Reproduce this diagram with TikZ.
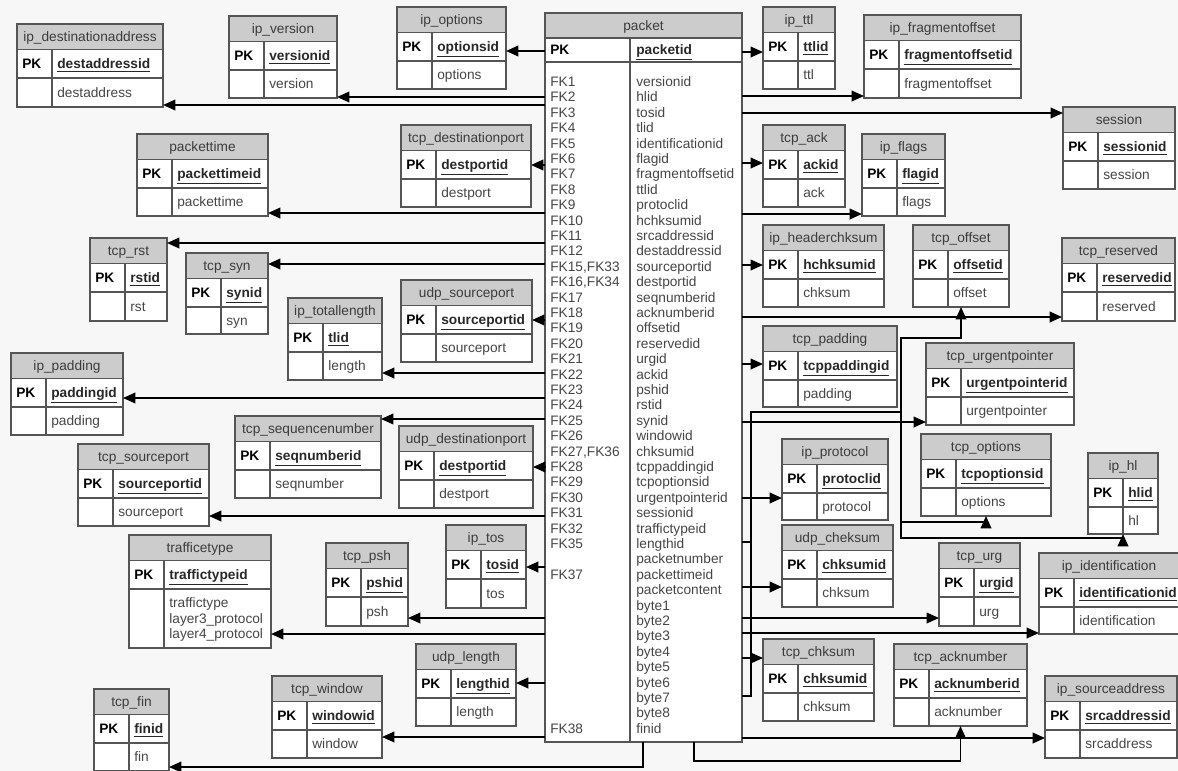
\documentclass[tikz,border=0pt]{standalone}
\usepackage{fontspec}
\setmainfont{Liberation Sans}
\usetikzlibrary{arrows.meta}

\definecolor{bggray}{RGB}{247,247,247}
\definecolor{hdrgray}{RGB}{204,204,204}
\definecolor{boxgray}{RGB}{85,85,85}
\definecolor{titlegray}{RGB}{60,60,60}
\definecolor{fldgray}{RGB}{70,70,70}
\definecolor{pkgray}{RGB}{40,40,40}

\newcommand\erfont{\fontsize{7.8}{8.73}\selectfont}

\tikzset{
  entbox/.style={draw=boxgray,line width=0.75pt,rectangle,inner sep=0pt,outer sep=0pt,anchor=north west},
  entline/.style={draw=boxgray,line width=0.75pt},
  ttl/.style={anchor=base,font=\erfont,text=titlegray,inner sep=0pt},
  pkl/.style={anchor=base west,font=\erfont\bfseries,text=black,inner sep=0pt},
  pkf/.style={anchor=base west,font=\erfont\bfseries,text=pkgray,inner sep=0pt},
  fld/.style={anchor=base west,font=\erfont,text=fldgray,inner sep=0pt},
  fk/.style={-{Triangle[length=7pt,width=6pt]},line width=1pt,black}
}

% table: [height]{name}{x}{y}{width}{title}{pk}{attribute}
\newcommand\entity[8][82]{%
  \fill[white] (#3,#4) rectangle ++(#5,#1);
  \fill[hdrgray] (#3,#4) rectangle ++(#5,25.5);
  \draw[entline] (#3,#4+25.5) -- ++(#5,0) (#3,#4+54) -- ++(#5,0) (#3+35,#4+25.5) -- (#3+35,#4+#1);
  \node[entbox,minimum width=#5*0.02cm,minimum height=#1*0.02cm] (#2) at (#3,#4) {};
  \node[ttl] at (#3+#5/2,#4+17.3) {#6};
  \node[pkl] at (#3+5,#4+44.3) {PK};
  \node[pkf] at (#3+40,#4+44.3) {\underline{#7}};
  \node[fld] at (#3+40,#4+31.5+#1/2) {#8};
}

\begin{document}
\begin{tikzpicture}[x=0.02cm,y=-0.02cm,line cap=butt,line join=miter]
\path[use as bounding box] (0,0) rectangle (1178,771);
\fill[bggray] (0,0) rectangle (1178,771);

% central table
\fill[white] (545,13) rectangle (742,742);
\fill[hdrgray] (545,13) rectangle (742,38);
\draw[entline] (545,38) -- (742,38) (545,62) -- (742,62) (630,38) -- (630,742);
\node[entbox,minimum width=197*0.02cm,minimum height=729*0.02cm] (packet) at (545,13) {};
\node[ttl] at (643.5,30) {packet};
\node[pkl] at (550,54.5) {PK};
\node[pkf] at (636,54.5) {\underline{packetid}};
\foreach \f [count=\i from 0] in {versionid,hlid,tosid,tlid,identificationid,flagid,
    fragmentoffsetid,ttlid,protoclid,hchksumid,srcaddressid,destaddressid,sourceportid,
    destportid,seqnumberid,acknumberid,offsetid,reservedid,urgid,ackid,pshid,rstid,synid,
    windowid,chksumid,tcppaddingid,tcpoptionsid,urgentpointerid,sessionid,traffictypeid,
    lengthid,packetnumber,packettimeid,packetcontent,byte1,byte2,byte3,byte4,byte5,byte6,
    byte7,byte8,finid}
  \node[fld] at (636,86.5+15.4*\i) {\f};
\foreach \i/\k in {0/FK1,1/FK2,2/FK3,3/FK4,4/FK5,5/FK6,6/FK7,7/FK8,8/FK9,9/FK10,10/FK11,
    11/FK12,12/{FK15,FK33},13/{FK16,FK34},14/FK17,15/FK18,16/FK19,17/FK20,18/FK21,19/FK22,
    20/FK23,21/FK24,22/FK25,23/FK26,24/{FK27,FK36},25/FK28,26/FK29,27/FK30,28/FK31,29/FK32,
    30/FK35,32/FK37,42/FK38}
  \node[fld] at (550,86.5+15.4*\i) {\k};

% tables left of packet
\entity[83]{ipdestinationaddress}{17}{24}{146}{ip\_destinationaddress}{destaddressid}{destaddress}
\entity{ipversion}{229}{16}{108}{ip\_version}{versionid}{version}
\entity{ipoptions}{397}{7}{109}{ip\_options}{optionsid}{options}
\entity{packettime}{137}{134}{131}{packettime}{packettimeid}{packettime}
\entity{tcpdestinationport}{401}{125}{130}{tcp\_destinationport}{destportid}{destport}
\entity[83]{tcprst}{90}{238}{77}{tcp\_rst}{rstid}{rst}
\entity[81]{tcpsyn}{186}{253}{82}{tcp\_syn}{synid}{syn}
\entity{iptotallength}{288}{298}{94}{ip\_totallength}{tlid}{length}
\entity{udpsourceport}{401}{280}{131}{udp\_sourceport}{sourceportid}{sourceport}
\entity{ippadding}{11}{353}{112}{ip\_padding}{paddingid}{padding}
\entity{tcpsequencenumber}{235}{416}{146}{tcp\_sequencenumber}{seqnumberid}{seqnumber}
\entity{udpdestinationport}{399}{426}{134}{udp\_destinationport}{destportid}{destport}
\entity{tcpsourceport}{78}{444}{131}{tcp\_sourceport}{sourceportid}{sourceport}
\entity[113]{traffictype}{129}{535}{142}{trafficetype}{traffictypeid}{}
\node[fld] at (169,607.5) {traffictype};
\node[fld] at (169,623) {layer3\_protocol};
\node[fld] at (169,638.5) {layer4\_protocol};
\entity[83]{tcppsh}{326}{543}{82}{tcp\_psh}{pshid}{psh}
\entity[83]{iptos}{446}{525}{80}{ip\_tos}{tosid}{tos}
\entity{udplength}{416}{644}{100}{udp\_length}{lengthid}{length}
\entity{tcpwindow}{272}{676}{110}{tcp\_window}{windowid}{window}
\entity{tcpfin}{94}{689}{75}{tcp\_fin}{finid}{fin}

% tables right of packet
\entity{ipttl}{763}{7}{72}{ip\_ttl}{ttlid}{ttl}
\entity[83]{ipfragmentoffset}{864}{15}{157}{ip\_fragmentoffset}{fragmentoffsetid}{fragmentoffset}
\entity{session}{1063}{107}{112}{session}{sessionid}{session}
\entity{ipflags}{862}{134}{83}{ip\_flags}{flagid}{flags}
\entity{tcpack}{763}{125}{82}{tcp\_ack}{ackid}{ack}
\entity{ipheaderchksum}{763}{225}{121}{ip\_headerchksum}{hchksumid}{chksum}
\entity{tcpoffset}{913}{225}{96}{tcp\_offset}{offsetid}{offset}
\entity[83]{tcpreserved}{1062}{238}{113}{tcp\_reserved}{reservedid}{reserved}
\entity[81]{tcppadding}{763}{326}{134}{tcp\_padding}{tcppaddingid}{padding}
\entity{tcpurgentpointer}{926}{343}{148}{tcp\_urgentpointer}{urgentpointerid}{urgentpointer}
\entity[81]{ipprotocol}{782}{439}{106}{ip\_protocol}{protoclid}{protocol}
\entity{tcpoptions}{921}{434}{130}{tcp\_options}{tcpoptionsid}{options}
\entity[81]{iphl}{1088}{453}{70}{ip\_hl}{hlid}{hl}
\entity{udpcheksum}{782}{525}{111}{udp\_cheksum}{chksumid}{chksum}
\entity[83]{tcpurg}{939}{543}{81}{tcp\_urg}{urgid}{urg}
\entity[81]{ipidentification}{1039}{553}{140}{ip\_identification}{identificationid}{identification}
\entity{tcpchksum}{763}{639}{111}{tcp\_chksum}{chksumid}{chksum}
\entity{tcpacknumber}{894}{644}{133}{tcp\_acknumber}{acknumberid}{acknumber}
\entity{ipsourceaddress}{1045}{676}{132}{ip\_sourceaddress}{srcaddressid}{srcaddress}

% foreign keys, left side
\draw[fk] (packet.west |- 0,51) -- (ipoptions.east |- 0,51);
\draw[fk] (packet.west |- 0,97) -- (ipversion.east |- 0,97);
\draw[fk] (packet.west |- 0,105) -- (ipdestinationaddress.east |- 0,105);
\draw[fk] (packet.west |- 0,165) -- (tcpdestinationport.east |- 0,165);
\draw[fk] (packet.west |- 0,213) -- (packettime.east |- 0,213);
\draw[fk] (packet.west |- 0,243) -- (tcprst.east |- 0,243);
\draw[fk] (packet.west |- 0,264) -- (tcpsyn.east |- 0,264);
\draw[fk] (packet.west |- 0,320) -- (udpsourceport.east |- 0,320);
\draw[fk] (packet.west |- 0,373) -- (iptotallength.east |- 0,373);
\draw[fk] (packet.west |- 0,398) -- (ippadding.east |- 0,398);
\draw[fk] (packet.west |- 0,419) -- (tcpsequencenumber.east |- 0,419);
\draw[fk] (packet.west |- 0,467) -- (udpdestinationport.east |- 0,467);
\draw[fk] (packet.west |- 0,516) -- (tcpsourceport.east |- 0,516);
\draw[fk] (packet.west |- 0,567) -- (iptos.east |- 0,567);
\draw[fk] (packet.west |- 0,618) -- (tcppsh.east |- 0,618);
\draw[fk] (packet.west |- 0,634) -- (traffictype.east |- 0,634);
\draw[fk] (packet.west |- 0,683) -- (udplength.east |- 0,683);
\draw[fk] (packet.west |- 0,737) -- (tcpwindow.east |- 0,737);
\draw[fk] (packet.south -| 643,0) |- (tcpfin.east |- 0,767);

% foreign keys, right side
\draw[fk] (packet.east |- 0,52) -- (ipttl.west |- 0,52);
\draw[fk] (packet.east |- 0,96) -- (ipfragmentoffset.west |- 0,96);
\draw[fk] (packet.east |- 0,113) -- (session.west |- 0,113);
\draw[fk] (packet.east |- 0,163) -- (tcpack.west |- 0,163);
\draw[fk] (packet.east |- 0,214) -- (ipflags.west |- 0,214);
\draw[fk] (packet.east |- 0,265) -- (ipheaderchksum.west |- 0,265);
\draw[fk] (packet.east |- 0,317) -- (tcpreserved.west |- 0,317);
\draw[fk] (packet.east |- 0,364) -- (tcppadding.west |- 0,364);
\draw[fk] (packet.east |- 0,422) -- (tcpurgentpointer.west |- 0,422);
\draw[fk] (packet.east |- 0,498) -- (ipprotocol.west |- 0,498);
\draw[fk] (packet.east |- 0,587) -- (udpcheksum.west |- 0,587);
\draw[fk] (packet.east |- 0,618) -- (tcpurg.west |- 0,618);
\draw[fk] (packet.east |- 0,633) -- (ipidentification.west |- 0,633);
\draw[fk] (packet.east |- 0,658) -- (tcpchksum.west |- 0,658);
\draw[fk] (packet.east |- 0,738) -- (ipsourceaddress.west |- 0,738);
\draw[fk] (packet.south -| 694,0) |- (tcpacknumber.south |- 0,761) -- (tcpacknumber.south);

% shared bus to offset, options and hl
\coordinate (busL) at (751,412);
\coordinate (busR) at (901,412);
\draw[fk] (packet.east |- 0,542) -| (busL) -- (busR) |- (tcpoffset.south |- 0,338) -- (tcpoffset.south);
\draw[fk] (packet.east |- 0,696) -| (busL) -- (busR) |- (tcpoptions.south |- 0,522) -- (tcpoptions.south);
\draw[fk] (packet.east |- 0,696) -| (busL) -- (busR) |- (iphl.south |- 0,538) -- (iphl.south);
\end{tikzpicture}
\end{document}
